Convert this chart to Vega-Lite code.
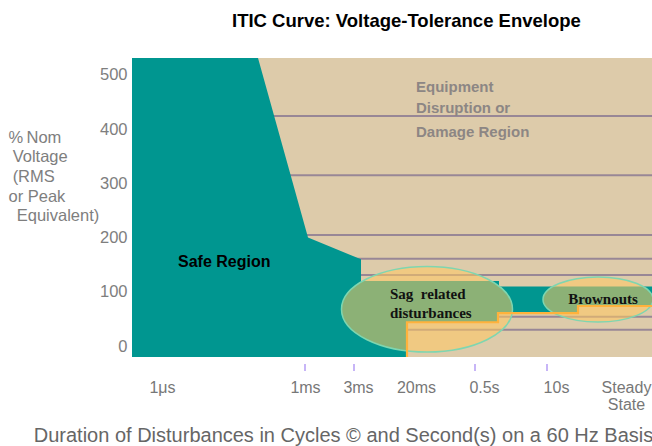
{
  "$schema": "https://vega.github.io/schema/vega-lite/v6.json",
  "width": 520,
  "height": 299,
  "autosize": {"type": "none"},
  "padding": {"left": 132, "top": 58, "right": 0, "bottom": 89},
  "background": "white",
  "config": {"view": {"fill": "#DDCBAA", "stroke": null}, "font": "Liberation Sans"},
  "title": {
    "text": "ITIC Curve: Voltage-Tolerance Envelope",
    "font": "Liberation Sans",
    "fontSize": 18.5,
    "fontWeight": "bold",
    "color": "#000000",
    "anchor": "start",
    "frame": "group",
    "dx": 100,
    "offset": 28
  },
  "datasets": {
    "hlines": [{"v": 424}, {"v": 315}, {"v": 205}, {"v": 161}, {"v": 131}, {"v": 54}, {"v": 30}],
    "safeRegion": [
      {"t": 0, "hi": 531, "lo": -20},
      {"t": 126, "hi": 531, "lo": -20},
      {"t": 176, "hi": 200, "lo": -20},
      {"t": 229, "hi": 160, "lo": -20},
      {"t": 229.01, "hi": 120, "lo": -20},
      {"t": 275, "hi": 120, "lo": -20},
      {"t": 275.01, "hi": 120, "lo": 44},
      {"t": 367, "hi": 120, "lo": 44},
      {"t": 367.01, "hi": 110, "lo": 61},
      {"t": 446, "hi": 110, "lo": 61},
      {"t": 446.01, "hi": 110, "lo": 74},
      {"t": 520, "hi": 110, "lo": 74}
    ],
    "lowerCurve": [
      {"i": 1, "t": 275, "v": -20},
      {"i": 2, "t": 275, "v": 44},
      {"i": 3, "t": 366, "v": 44},
      {"i": 4, "t": 366, "v": 61},
      {"i": 5, "t": 446, "v": 61},
      {"i": 6, "t": 446, "v": 74},
      {"i": 7, "t": 520, "v": 74}
    ],
    "sag": [{"t": 295, "v": 68}],
    "brown": [{"t": 466, "v": 86}],
    "tickMarks": [{"t": 173}, {"t": 222}, {"t": 343}, {"t": 415}],
    "equip": [
      {"t": 284, "v": 477.6, "label": "Equipment"},
      {"t": 284, "v": 438.9, "label": "Disruption or"},
      {"t": 284, "v": 394.6, "label": "Damage Region"}
    ],
    "safeText": [{"t": 46, "v": 155, "label": "Safe Region"}],
    "sagText": [
      {"t": 258, "v": 96, "label": "Sag\u2005 related"},
      {"t": 258, "v": 61, "label": "disturbances"}
    ],
    "brownText": [{"t": 471, "v": 87, "label": "Brownouts"}]
  },
  "layer": [
    {
      "data": {"name": "hlines"},
      "mark": {"type": "rule", "color": "#988796", "strokeWidth": 2},
      "encoding": {
        "y": {"field": "v", "type": "quantitative", "scale": {"domain": [-20, 531], "nice": false, "zero": false}}
      }
    },
    {
      "data": {"name": "safeRegion"},
      "mark": {"type": "area", "color": "#009690", "opacity": 1},
      "encoding": {
        "x": {
          "field": "t", "type": "quantitative",
          "scale": {"domain": [0, 520], "nice": false, "zero": false},
          "axis": {
            "values": [30, 173, 226, 284, 352, 424, 494],
            "labelExpr": "datum.value==30?'1μs':datum.value==173?'1ms':datum.value==226?'3ms':datum.value==284?'20ms':datum.value==352?'0.5s':datum.value==424?'10s':['Steady','State']",
            "domain": false, "ticks": false, "grid": false,
            "labelFont": "Liberation Sans", "labelFontSize": 16, "labelColor": "#777777",
            "labelPadding": 22, "labelBaseline": "top", "labelOverlap": false, "labelLineHeight": 17, "labelFlush": false,
            "title": "Duration of Disturbances in Cycles © and Second(s) on a 60 Hz Basis",
            "titleFont": "Liberation Sans", "titleFontSize": 20, "titleFontWeight": "normal", "titleColor": "#666666",
            "titleX": 211, "titleY": 68, "titleAlign": "center", "titleBaseline": "top"
          }
        },
        "y": {
          "field": "hi", "type": "quantitative",
          "scale": {"domain": [-20, 531], "nice": false, "zero": false},
          "axis": {
            "values": [0, 100, 200, 300, 400, 500],
            "domain": false, "ticks": false, "grid": false,
            "labelFont": "Liberation Sans", "labelFontSize": 16.5, "labelColor": "#7e7e7e", "labelPadding": 5,
            "title": ["%\u2009Nom", "\u200b\u2005Voltage", "\u200b\u2005(RMS", "or Peak", "\u200b\u2005\u2005Equivalent)"],
            "titleFont": "Liberation Sans", "titleFontSize": 16.5, "titleFontWeight": "normal", "titleColor": "#7e7e7e",
            "titleAngle": 0, "titleAlign": "left", "titleBaseline": "top", "titleX": -124, "titleY": 71, "titleLineHeight": 19.7
          }
        },
        "y2": {"field": "lo"}
      }
    },
    {
      "data": {"name": "sag"},
      "mark": {"type": "point", "shape": "M -1 0 A 1 0.5 0 1 0 1 0 A 1 0.5 0 1 0 -1 0 Z", "size": 29240, "filled": true, "fill": "#FFC860", "fillOpacity": 0.55, "stroke": "#7ED6B0", "strokeWidth": 1.5, "strokeOpacity": 1},
      "encoding": {
        "x": {"field": "t", "type": "quantitative", "scale": {"domain": [0, 520], "nice": false, "zero": false}},
        "y": {"field": "v", "type": "quantitative", "scale": {"domain": [-20, 531], "nice": false, "zero": false}}
      }
    },
    {
      "data": {"name": "brown"},
      "mark": {"type": "point", "shape": "M -1 0 A 1 0.41 0 1 0 1 0 A 1 0.41 0 1 0 -1 0 Z", "size": 12100, "filled": true, "fill": "#FFC860", "fillOpacity": 0.55, "stroke": "#7ED6B0", "strokeWidth": 1.5, "strokeOpacity": 1},
      "encoding": {
        "x": {"field": "t", "type": "quantitative", "scale": {"domain": [0, 520], "nice": false, "zero": false}},
        "y": {"field": "v", "type": "quantitative", "scale": {"domain": [-20, 531], "nice": false, "zero": false}}
      }
    },
    {
      "data": {"name": "lowerCurve"},
      "mark": {"type": "line", "color": "#FFB23C", "strokeWidth": 2.2, "interpolate": "linear"},
      "encoding": {
        "x": {"field": "t", "type": "quantitative", "scale": {"domain": [0, 520], "nice": false, "zero": false}},
        "y": {"field": "v", "type": "quantitative", "scale": {"domain": [-20, 531], "nice": false, "zero": false}},
        "order": {"field": "i", "type": "quantitative"}
      }
    },
    {
      "data": {"name": "tickMarks"},
      "mark": {"type": "rule", "color": "#B49CF5", "strokeWidth": 1.5},
      "encoding": {
        "x": {"field": "t", "type": "quantitative", "scale": {"domain": [0, 520], "nice": false, "zero": false}},
        "y": {"datum": -33, "type": "quantitative", "scale": {"domain": [-20, 531], "nice": false, "zero": false}},
        "y2": {"datum": -46}
      }
    },
    {
      "data": {"name": "equip"},
      "mark": {"type": "text", "align": "left", "baseline": "middle", "font": "Liberation Sans", "fontSize": 15, "fontWeight": "bold", "color": "#8c8684"},
      "encoding": {
        "x": {"field": "t", "type": "quantitative", "scale": {"domain": [0, 520], "nice": false, "zero": false}},
        "y": {"field": "v", "type": "quantitative", "scale": {"domain": [-20, 531], "nice": false, "zero": false}},
        "text": {"field": "label"}
      }
    },
    {
      "data": {"name": "safeText"},
      "mark": {"type": "text", "align": "left", "baseline": "middle", "font": "Liberation Sans", "fontSize": 16, "fontWeight": "bold", "color": "#000000"},
      "encoding": {
        "x": {"field": "t", "type": "quantitative", "scale": {"domain": [0, 520], "nice": false, "zero": false}},
        "y": {"field": "v", "type": "quantitative", "scale": {"domain": [-20, 531], "nice": false, "zero": false}},
        "text": {"field": "label"}
      }
    },
    {
      "data": {"name": "sagText"},
      "mark": {"type": "text", "align": "left", "baseline": "middle", "font": "Liberation Serif", "fontSize": 15, "fontWeight": "bold", "color": "#111111"},
      "encoding": {
        "x": {"field": "t", "type": "quantitative", "scale": {"domain": [0, 520], "nice": false, "zero": false}},
        "y": {"field": "v", "type": "quantitative", "scale": {"domain": [-20, 531], "nice": false, "zero": false}},
        "text": {"field": "label"}
      }
    },
    {
      "data": {"name": "brownText"},
      "mark": {"type": "text", "align": "center", "baseline": "middle", "font": "Liberation Serif", "fontSize": 15, "fontWeight": "bold", "color": "#111111"},
      "encoding": {
        "x": {"field": "t", "type": "quantitative", "scale": {"domain": [0, 520], "nice": false, "zero": false}},
        "y": {"field": "v", "type": "quantitative", "scale": {"domain": [-20, 531], "nice": false, "zero": false}},
        "text": {"field": "label"}
      }
    }
  ]
}
